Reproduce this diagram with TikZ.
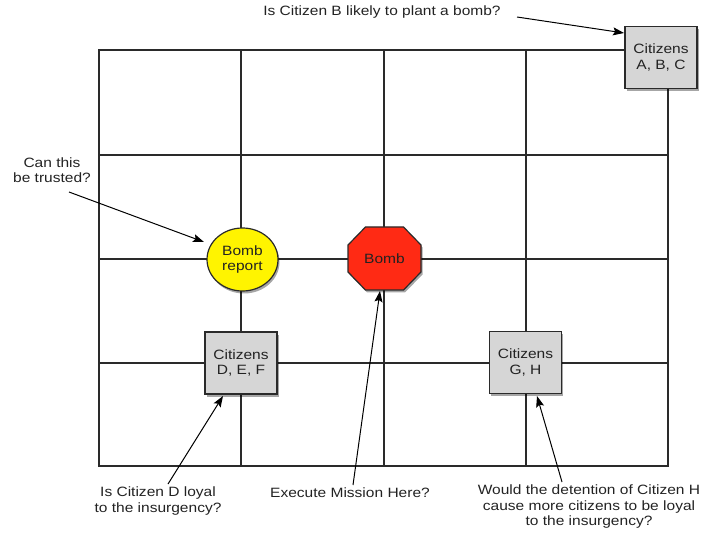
\documentclass[tikz,border=0pt]{standalone}
\usepackage{fontspec}
\setmainfont[FakeStretch=1.15]{Liberation Sans}
\usetikzlibrary{shadows,arrows.meta,shapes.geometric}
\definecolor{boxgray}{HTML}{D6D6D6}
\definecolor{bombred}{HTML}{FF2A14}
\definecolor{repyellow}{HTML}{FFF400}
\definecolor{linegray}{HTML}{2A2A2A}
\definecolor{txt}{HTML}{222222}
\tikzset{
  gridline/.style={draw=linegray, line width=1.2pt},
  shad/.style={drop shadow={shadow xshift=1.5pt, shadow yshift=-2.5pt, opacity=0.35, fill=black}},
  citbox/.style={draw=linegray, line width=1.2pt, fill=boxgray, minimum width=72pt, minimum height=62pt, inner sep=0pt, align=center, text=txt, shad},
  lbl/.style={align=center, text=txt, inner sep=1pt},
  callout/.style={draw=black, line width=1pt, -{Stealth[length=11pt,width=8pt,inset=2pt]}},
}
\begin{document}
\begin{tikzpicture}[x=1pt,y=-1pt, font=\fontsize{13.5}{15.5}\selectfont]
\useasboundingbox (0,0) rectangle (706,534);
% grid
\draw[gridline] (99,50) rectangle (668,466);
\foreach \xx in {241,384,526} \draw[gridline] (\xx,50) -- (\xx,466);
\foreach \yy in {155,259,363} \draw[gridline] (99,\yy) -- (668,\yy);

% shapes
\node[citbox] (abc) at (661,57.5) {Citizens\\A, B, C};
\node[citbox] (def) at (241,363) {Citizens\\D, E, F};
\node[citbox] (gh) at (525.5,362.5) {Citizens\\G, H};
\node[ellipse, draw=linegray, line width=1.2pt, fill=repyellow, minimum width=71pt, minimum height=63pt, inner sep=0pt, align=center, text=txt, shad] (report) at (242.5,259.5) {Bomb\\report};
\coordinate (bc) at (384.5,258.5);
\draw[draw=linegray, line width=1.2pt, fill=bombred, shad]
  (bc) ++(-19,-31.5) -- ++(38,0) -- ++(17.5,18) -- ++(0,27) -- ++(-17.5,18) -- ++(-38,0) -- ++(-17.5,-18) -- ++(0,-27) -- cycle;
\node[minimum width=73pt, minimum height=63pt, inner sep=0pt, text=txt] (bomb) at (bc) {Bomb};

% annotations
\node[lbl] (qb) at (382,12) {Is Citizen B likely to plant a bomb?};
\node[lbl] (qtrust) at (52,170) {Can this\\be trusted?};
\node[lbl] (qd) at (158,501) {Is Citizen D loyal\\to the insurgency?};
\node[lbl] (qexec) at (350,493) {Execute Mission Here?};
\node[lbl] (qh) at (589,507) {Would the detention of Citizen H\\cause more citizens to be loyal\\to the insurgency?};

\coordinate (sb) at (517,17);
\coordinate (tb) at (624,33);
\coordinate (st) at (69,192);
\coordinate (tt) at (204,242);
\coordinate (sd) at (168,484);
\coordinate (td) at (223,396);
\coordinate (se) at (353,485);
\coordinate (te) at (380,291);
\coordinate (sh) at (562,482);
\coordinate (th) at (537,396);
\draw[callout] (sb) -- (tb);
\draw[callout] (st) -- (tt);
\draw[callout] (sd) -- (td);
\draw[callout] (se) -- (te);
\draw[callout] (sh) -- (th);
\end{tikzpicture}
\end{document}
